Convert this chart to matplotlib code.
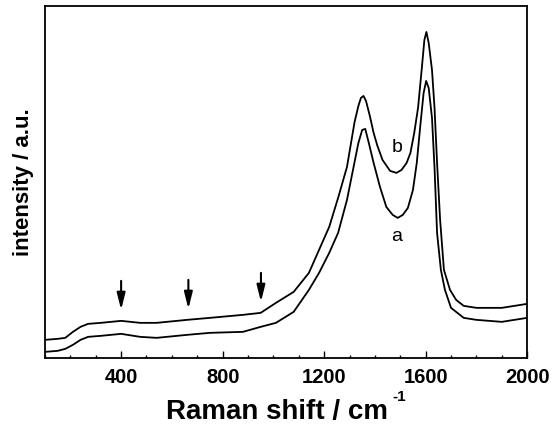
import matplotlib
matplotlib.use("Agg")
import matplotlib.pyplot as plt
from matplotlib.ticker import MultipleLocator

plt.rcParams["font.family"] = ["Liberation Sans", "DejaVu Sans"]

# spectrum b (upper trace), arbitrary intensity
shift_b = [100, 150, 180, 210, 240, 270, 320, 400, 475, 540, 660, 750, 880, 950,
           1010, 1080, 1140, 1180, 1220, 1255, 1290, 1320, 1335, 1345, 1355,
           1365, 1380, 1395, 1410, 1430, 1460, 1485, 1505, 1525, 1540, 1555,
           1570, 1585, 1595, 1603, 1612, 1625, 1635, 1645, 1657, 1672, 1696,
           1720, 1750, 1800, 1900, 2000]
int_b = [18, 19, 20, 26, 31, 34, 35, 37, 35, 35, 38, 40, 43, 45,
         55, 66, 85, 108, 131, 160, 191, 236, 252, 260, 262,
         257, 242, 225, 212, 198, 187, 185, 188, 195, 205, 225,
         250, 290, 318, 326, 315, 288, 250, 195, 138, 88, 68,
         58, 52, 50, 50, 54]

# spectrum a (lower trace)
shift_a = [100, 150, 180, 210, 240, 270, 320, 400, 475, 540, 660, 750, 880, 950,
           1010, 1080, 1140, 1180, 1220, 1255, 1290, 1320, 1335, 1350, 1362,
           1375, 1395, 1420, 1445, 1470, 1490, 1510, 1530, 1550, 1565, 1580,
           1592, 1602, 1612, 1625, 1635, 1645, 1660, 1676, 1700, 1750, 1800,
           1900, 2000]
int_a = [6, 7, 9, 13, 18, 21, 22, 24, 21, 20, 23, 25, 26, 31,
         35, 46, 68, 85, 105, 125, 158, 196, 215, 228, 229,
         216, 195, 171, 151, 143, 140, 143, 150, 168, 195, 235,
         265, 277, 270, 240, 190, 125, 88, 68, 50, 40, 38,
         36, 40]

# marked weak bands (arrows)
band_pos = [400, 665, 951]
band_tip = [48, 49, 56]

fig = plt.figure(figsize=(5.52, 4.26), dpi=100)
ax = fig.add_axes([0.0815, 0.16, 0.8735, 0.826])

ax.plot(shift_b, int_b, color="black", lw=1.3)
ax.plot(shift_a, int_a, color="black", lw=1.3)

for xp, yt in zip(band_pos, band_tip):
    ax.annotate("", xy=(xp, yt), xytext=(xp, yt + 29),
                arrowprops=dict(arrowstyle="-|>,head_length=1.0,head_width=0.25",
                                color="black", lw=1.5, mutation_scale=10,
                                shrinkA=0, shrinkB=0))

ax.text(1487, 210, "b", fontsize=14, ha="center", va="center")
ax.text(1487, 121, "a", fontsize=14, ha="center", va="center")

ax.set_xlim(100, 2000)
ax.set_ylim(0, 352)
ax.xaxis.set_major_locator(MultipleLocator(400))
ax.xaxis.set_minor_locator(MultipleLocator(100))
ax.set_yticks([])
ax.tick_params(axis="x", which="major", direction="in", length=5, width=1,
               labelsize=14.5, pad=7)
ax.tick_params(axis="x", which="minor", direction="in", length=2.5, width=1)
for lab in ax.get_xticklabels():
    lab.set_fontweight("bold")
for sp in ax.spines.values():
    sp.set_linewidth(1.3)

# x label with a small raised "-1"
fig.text(277 / 552, 1 - 419 / 426, "Raman shift / cm", fontsize=20,
         fontweight="bold", ha="center", va="baseline")
fig.text(392 / 552, 1 - 401 / 426, "-1", fontsize=11,
         fontweight="bold", ha="left", va="baseline")
ax.set_ylabel("intensity / a.u.", fontsize=16, fontweight="bold", labelpad=8)

fig.savefig("out.png", dpi=100)
